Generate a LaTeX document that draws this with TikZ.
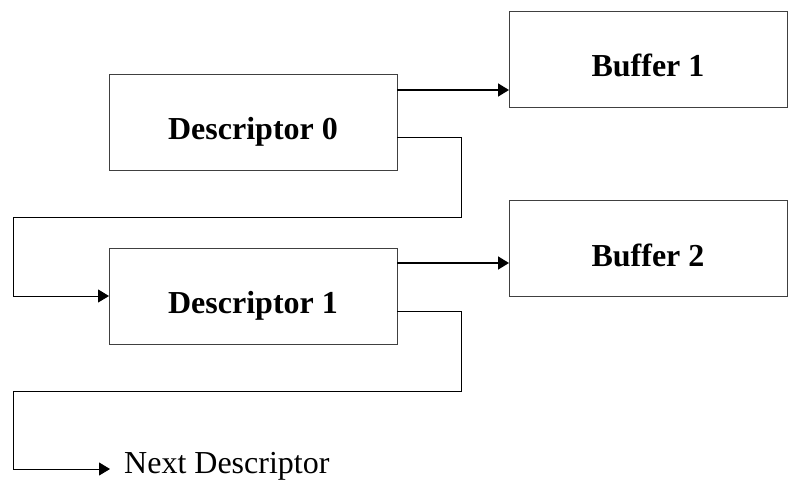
\documentclass[tikz,border=0pt]{standalone}
\usepackage{fontspec}
\setmainfont{Liberation Serif}
\usetikzlibrary{arrows.meta}

\begin{document}
\begin{tikzpicture}[x=1pt,y=-1pt,
    box/.style = {rectangle,draw=black!75,line width=0.9pt,minimum height=96pt,outer sep=0mm,
                  font=\fontsize{32}{38}\selectfont\bfseries,text height=35pt,text depth=0pt},
    desc/.style = {box,minimum width=288pt},
    buf/.style = {box,minimum width=278pt},
    ptr/.style = {-{Triangle[length=11pt,width=13pt]},line width=1.6pt},
    link/.style = {-{Triangle[length=11pt,width=13pt]},line width=0.9pt}]
    \useasboundingbox (0,0) rectangle (788,482);
    \node[desc] (desc0) at (253,122) {Descriptor 0};
    \node[desc] (desc1) at (253,296) {Descriptor 1};
    \node[buf] (buf1) at (648,59) {Buffer 1};
    \node[buf] (buf2) at (648,248.5) {Buffer 2};
    \node[anchor=west,inner ysep=0pt,inner xsep=14pt,text height=8pt,text depth=0pt,
          font=\fontsize{32}{38}\selectfont] (next) at (110,469) {Next Descriptor};
    \draw[ptr] ([yshift=32pt]desc0.east) -- ([yshift=32pt]desc0.east -| buf1.west);
    \draw[ptr] ([yshift=33pt]desc1.east) -- ([yshift=33pt]desc1.east -| buf2.west);
    \draw[link] ([yshift=-15pt]desc0.east) -- ++(64,0) |- (13,217) |- (desc1.west);
    \draw[link] ([yshift=-15pt]desc1.east) -- ++(64,0) |- (13,391) |- (next.west);
\end{tikzpicture}
\end{document}
